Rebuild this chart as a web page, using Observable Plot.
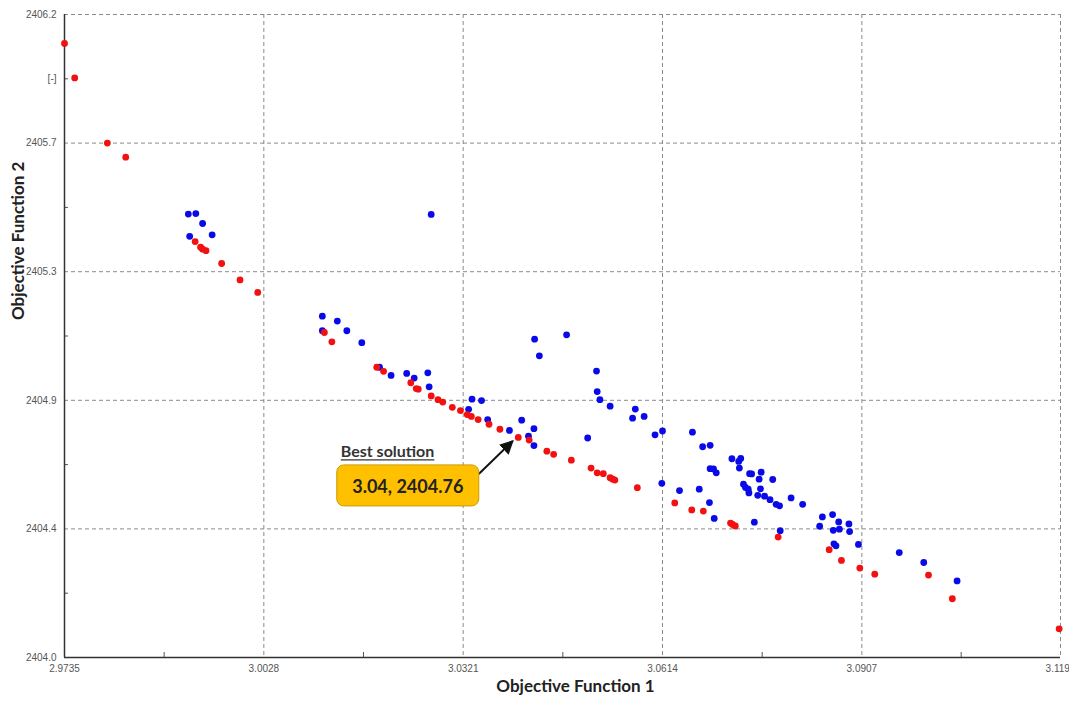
<!DOCTYPE html>
<html><head><meta charset="utf-8">
<script src="https://cdn.jsdelivr.net/npm/d3@7"></script>
<script src="https://cdn.jsdelivr.net/npm/@observablehq/plot@0.6"></script>
<style>
body{margin:0;background:#fff;}
#chart svg{display:block;}
</style></head><body><div id="chart"></div>
<script>
// Red series (Pareto front)
const redX = [2.9735,2.9750,2.9798,2.9825,2.9927,2.9935,2.9938,2.9943,2.9966,2.9993,3.0019,3.0117,3.0128,3.0194,3.0204,3.0244,3.0252,3.0255,3.0274,3.0284,3.0291,3.0305,3.0317,3.0327,3.0333,3.0343,3.0359,3.0375,3.0402,3.0418,3.0444,3.0454,3.0480,3.0509,3.0518,3.0527,3.0537,3.0541,3.0544,3.0577,3.0632,3.0657,3.0674,3.0714,3.0717,3.0721,3.0784,3.0859,3.0877,3.0904,3.0926,3.1005,3.1040,3.1197];
const redY = [2406.101,2405.983,2405.760,2405.712,2405.423,2405.404,2405.397,2405.392,2405.348,2405.292,2405.249,2405.112,2405.080,2404.993,2404.979,2404.940,2404.920,2404.918,2404.895,2404.882,2404.874,2404.856,2404.845,2404.831,2404.825,2404.814,2404.798,2404.781,2404.753,2404.744,2404.706,2404.695,2404.675,2404.648,2404.632,2404.629,2404.615,2404.610,2404.607,2404.581,2404.529,2404.505,2404.501,2404.460,2404.455,2404.450,2404.412,2404.369,2404.332,2404.306,2404.285,2404.282,2404.201,2404.098];
// Blue series (other solutions)
const blueX = [2.9917,2.9928,2.9938,2.9952,2.9919,3.0274,3.0114,3.0136,3.0150,3.0172,3.0114,3.0198,3.0215,3.0238,3.0249,3.0269,3.0271,3.0334,3.0348,3.0329,3.0357,3.0389,3.0407,3.0417,3.0425,3.0425,3.0426,3.0433,3.0473,3.0517,3.0518,3.0522,3.0537,3.0574,3.0570,3.0587,3.0603,3.0614,3.0658,3.0504,3.0613,3.0639,3.0673,3.0684,3.0716,3.0726,3.0729,3.0727,3.0684,3.0689,3.0693,3.0742,3.0745,3.0759,3.0756,3.0776,3.0733,3.0736,3.0740,3.0741,3.0758,3.0754,3.0764,3.0772,3.0781,3.0786,3.0803,3.0820,3.0668,3.0683,3.0690,3.0749,3.0787,3.0849,3.0845,3.0864,3.0873,3.0874,3.0865,3.0888,3.0889,3.0866,3.0869,3.0902,3.0962,3.0998,3.1047];
const blueY = [2405.517,2405.519,2405.485,2405.446,2405.441,2405.516,2405.168,2405.151,2405.118,2405.077,2405.118,2404.993,2404.965,2404.972,2404.956,2404.974,2404.926,2404.884,2404.879,2404.849,2404.814,2404.777,2404.812,2404.757,2404.783,2404.725,2405.089,2405.032,2405.104,2404.980,2404.910,2404.882,2404.860,2404.850,2404.819,2404.825,2404.762,2404.775,2404.771,2404.751,2404.596,2404.571,2404.721,2404.726,2404.680,2404.671,2404.681,2404.648,2404.646,2404.645,2404.632,2404.629,2404.628,2404.634,2404.610,2404.609,2404.593,2404.582,2404.576,2404.563,2404.577,2404.555,2404.552,2404.540,2404.524,2404.519,2404.546,2404.524,2404.576,2404.530,2404.476,2404.463,2404.434,2404.481,2404.449,2404.489,2404.464,2404.439,2404.435,2404.457,2404.431,2404.389,2404.382,2404.387,2404.359,2404.325,2404.262];

const xTicks = [2.9735, 3.0028, 3.0321, 3.0614, 3.0907, 3.1199];
const xTickLabels = ["2.9735","3.0028","3.0321","3.0614","3.0907","3.1199"];
const yTicks = [2404.0, 2404.44, 2404.88, 2405.32, 2405.76, 2406.2];
const yTickLabels = ["2404.0","2404.4","2404.9","2405.3","2405.7","2406.2"];
const yUnitLabel = "[-]";
const xTitle = "Objective Function 1";
const yTitle = "Objective Function 2";
const bestTitle = "Best solution";
const bestValueText = "3.04, 2404.76";
const bestPoint = [3.0402, 2404.753];

const red = redX.map((x, i) => ({x, y: redY[i]}));
const blue = blueX.map((x, i) => ({x, y: blueY[i]}));
const xMinor = xTicks.slice(1).map((t, i) => (t + xTicks[i]) / 2);
const yMinor = yTicks.slice(1).map((t, i) => (t + yTicks[i]) / 2);

const tickFont = "'Liberation Sans Narrow','Liberation Sans',Arial,sans-serif";
const titleFont = "Lato,'Open Sans',sans-serif";

const chart = Plot.plot({
  width: 1069, height: 701,
  marginLeft: 64, marginRight: 9, marginTop: 14, marginBottom: 44,
  x: {domain: [xTicks[0], xTicks[xTicks.length - 1]]},
  y: {domain: [yTicks[0], yTicks[yTicks.length - 1]]},
  style: {background: "#fff", fontFamily: tickFont, fontSize: "10px"},
  marks: [
    Plot.ruleX(xTicks.slice(1), {stroke: "#8a8a8a", strokeDasharray: "4,3", strokeWidth: 1}),
    Plot.ruleY(yTicks.slice(1), {stroke: "#8a8a8a", strokeDasharray: "4,3", strokeWidth: 1}),
    Plot.axisX(xMinor, {anchor: "bottom", tickSize: 5, dy: -5, tickFormat: () => "", label: null, color: "#555"}),
    Plot.axisY(yMinor, {anchor: "left", tickSize: 4, dx: 4, tickFormat: () => "", label: null, color: "#555"}),
    Plot.axisX(xTicks, {anchor: "bottom", tickSize: 0, tickPadding: 7, color: "#555", fontSize: 10, label: null,
      tickFormat: d => xTickLabels[xTicks.indexOf(d)]}),
    Plot.axisY(yTicks, {anchor: "left", tickSize: 0, tickPadding: 8, color: "#555", fontSize: 10, label: null,
      tickFormat: d => yTickLabels[yTicks.indexOf(d)]}),
    Plot.text([yMinor[yMinor.length - 1]], {y: d => d, text: () => yUnitLabel, frameAnchor: "left",
      dx: -8, textAnchor: "end", fill: "#555", fontSize: 10}),
    Plot.ruleX([xTicks[0]], {stroke: "#333", strokeWidth: 1.5}),
    Plot.ruleY([yTicks[0]], {stroke: "#333", strokeWidth: 1.5}),
    Plot.dot(blue, {x: "x", y: "y", r: 3.4, fill: "#0a0ae8"}),
    Plot.dot(red, {x: "x", y: "y", r: 3.4, fill: "#f21010"}),
    Plot.text([xTitle], {frameAnchor: "bottom", dx: 13, dy: 34, fontSize: 17, fontWeight: "bold",
      fill: "#222", fontFamily: titleFont}),
    Plot.text([yTitle], {frameAnchor: "left", rotate: -90, dx: -46, dy: -16, fontSize: 17, fontWeight: "bold",
      fill: "#222", fontFamily: titleFont})
  ]
});
document.getElementById("chart").appendChild(chart);

// Annotation anchored to the best solution point
const px = chart.scale("x").apply(bestPoint[0]);
const py = chart.scale("y").apply(bestPoint[1]);
const svg = d3.select(chart);
const defs = svg.append("defs");
defs.append("marker").attr("id", "ah").attr("viewBox", "0 0 10 10").attr("refX", 9).attr("refY", 5)
  .attr("markerWidth", 7).attr("markerHeight", 7).attr("orient", "auto-start-reverse")
  .append("path").attr("d", "M0,0L10,5L0,10z").attr("fill", "#111");
const g = svg.append("g");
g.append("line").attr("x1", px - 39).attr("y1", py + 37).attr("x2", px - 5).attr("y2", py + 4)
  .attr("stroke", "#111").attr("stroke-width", 2).attr("marker-end", "url(#ah)");
g.append("rect").attr("x", px - 181).attr("y", py + 28).attr("width", 142).attr("height", 41)
  .attr("rx", 7).attr("fill", "#ffc000").attr("stroke", "#c99a00").attr("stroke-width", 1);
g.append("text").attr("x", px - 110).attr("y", py + 49).attr("text-anchor", "middle")
  .attr("dominant-baseline", "central").attr("font-family", titleFont).attr("font-weight", "bold")
  .attr("font-size", 18).attr("fill", "#222").text(bestValueText);
const bt = g.append("text").attr("x", px - 177).attr("y", py + 20).attr("text-anchor", "start")
  .attr("font-family", titleFont).attr("font-weight", "bold").attr("font-size", 16).attr("fill", "#333").text(bestTitle);
const bw = bt.node().getComputedTextLength();
g.append("line").attr("x1", px - 177).attr("x2", px - 177 + bw).attr("y1", py + 23).attr("y2", py + 23)
  .attr("stroke", "#333").attr("stroke-width", 1.4);
</script></body></html>
